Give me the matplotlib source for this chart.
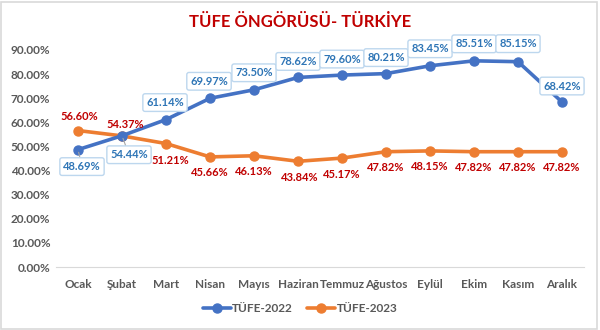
import matplotlib
matplotlib.use("Agg")
import matplotlib.pyplot as plt
from matplotlib.patches import Rectangle

plt.rcParams['font.family'] = ['Lato', 'DejaVu Sans']

months = ["Ocak", "Şubat", "Mart", "Nisan", "Mayıs", "Haziran", "Temmuz",
          "Ağustos", "Eylül", "Ekim", "Kasım", "Aralık"]
tufe_2022 = [48.69, 54.44, 61.14, 69.97, 73.50, 78.62, 79.60, 80.21, 83.45, 85.51, 85.15, 68.42]
tufe_2023 = [56.60, 54.37, 51.21, 45.66, 46.13, 43.84, 45.17, 47.82, 48.15, 47.82, 47.82, 47.82]
yticks = [0, 10, 20, 30, 40, 50, 60, 70, 80, 90]

# label offsets in pixels (dx, dy)
off_2022 = [(4, -17), (7, -19), (-1, 17), (-1, 17), (0, 17), (0, 16), (0, 16),
            (0, 16), (0, 17), (0, 17), (0, 18), (0, 16)]
off_2023 = [(1, 14), (3, 11), (4, -17), (0, -16), (0, -16), (2, -16), (0, -16),
            (0, -16), (0, -16), (0, -16), (0, -16), (0, -16)]

blue = "#4472C4"
orange = "#ED7D31"

fig = plt.figure(figsize=(6, 3.3), dpi=100)
ax = fig.add_axes([56/600, 63/330, 528/600, 217/330])
x = list(range(len(months)))

ax.plot(x, [v/100 for v in tufe_2022], color=blue, lw=2.6, marker='o', ms=6.5,
        label="TÜFE-2022", zorder=3, solid_capstyle='round')
ax.plot(x, [v/100 for v in tufe_2023], color=orange, lw=2.6, marker='o', ms=6.5,
        label="TÜFE-2023", zorder=2, solid_capstyle='round')

for i, v in enumerate(tufe_2022):
    dx, dy = off_2022[i]
    ax.annotate(f"{v:.2f}%", (i, v/100), xytext=(dx, dy), textcoords='offset pixels',
                ha='center', va='center', fontsize=8, fontweight='bold', color="#2E75B6",
                bbox=dict(boxstyle='round,pad=0.3,rounding_size=0.2', fc='white',
                          ec='#BDD7EE', lw=1.0), zorder=5,
                arrowprops=(dict(arrowstyle='-', color='#A6A6A6', lw=0.8,
                                 shrinkA=0, shrinkB=2) if i in (0, 1) else None))

for i, v in enumerate(tufe_2023):
    dx, dy = off_2023[i]
    ax.annotate(f"{v:.2f}%", (i, v/100), xytext=(dx, dy), textcoords='offset pixels',
                ha='center', va='center', fontsize=8, fontweight='bold', color="#C00000",
                zorder=6)

ax.set_xlim(-0.5, len(months) - 0.5)
ax.set_ylim(0, 0.9)
ax.set_yticks([t/100 for t in yticks])
ax.set_yticklabels([f"{t:.2f}%" for t in yticks])
ax.set_xticks(x)
ax.set_xticklabels(months)
for s in ['top', 'right', 'left']:
    ax.spines[s].set_visible(False)
ax.spines['bottom'].set_color('#D9D9D9')
ax.tick_params(axis='both', length=0, colors='#595959', labelsize=8.5)
ax.tick_params(axis='x', pad=9)
ax.tick_params(axis='y', pad=4)
for lab in ax.get_xticklabels() + ax.get_yticklabels():
    lab.set_fontweight('bold')

fig.text(0.5, 1 - 22/330, "TÜFE ÖNGÖRÜSÜ- TÜRKİYE", ha='center', va='center',
         fontsize=12, fontweight='bold', color="#C00000")

leg = fig.legend(loc='center', bbox_to_anchor=(0.5, 1 - 309/330), ncol=2, frameon=False,
                 fontsize=8.5, handlelength=2.4, columnspacing=1.2, handletextpad=0.1)
for t in leg.get_texts():
    t.set_color('#595959')
    t.set_fontweight('bold')

fig.patches.append(Rectangle((0.002, 0.003), 0.993, 0.992, transform=fig.transFigure,
                             fill=False, ec='#D9D9D9', lw=1.2))

fig.savefig("out.png", dpi=100)
